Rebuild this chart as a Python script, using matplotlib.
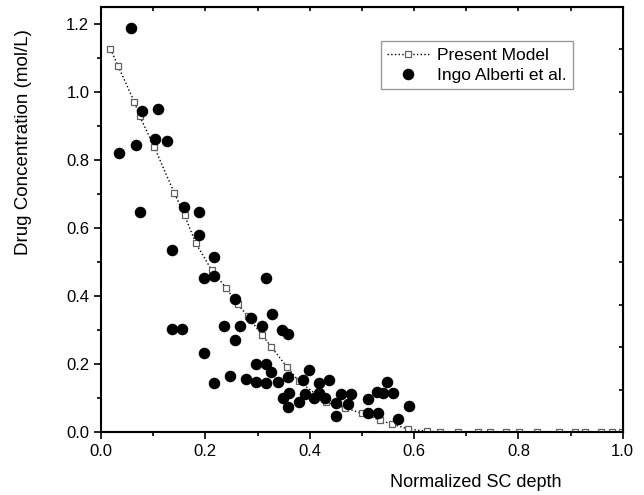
import matplotlib.pyplot as plt
import numpy as np

plt.rcParams['font.family'] = ['Liberation Sans', 'DejaVu Sans']

# present model (squares + dotted line)
modelX = [0.018, 0.033, 0.064, 0.074, 0.102, 0.140, 0.160, 0.181, 0.212, 0.240,
          0.262, 0.281, 0.308, 0.326, 0.356, 0.379, 0.432, 0.467, 0.500, 0.535,
          0.557, 0.589, 0.624, 0.650, 0.684, 0.723, 0.746, 0.777, 0.802, 0.836,
          0.878, 0.909, 0.928, 0.959, 0.979, 0.998]
modelY = [1.126, 1.075, 0.970, 0.929, 0.838, 0.704, 0.638, 0.557, 0.476, 0.423,
          0.376, 0.341, 0.287, 0.251, 0.192, 0.150, 0.088, 0.072, 0.055, 0.035,
          0.024, 0.009, 0.003, 0.001, 0.0, 0.0, 0.0, 0.0, 0.0, 0.0,
          0.0, 0.0, 0.0, 0.0, 0.0, 0.0]

# experimental data (Ingo Alberti et al.)
expX = [0.057, 0.078, 0.109, 0.104, 0.127, 0.067, 0.035, 0.075, 0.158, 0.188,
        0.187, 0.136, 0.217, 0.197, 0.217, 0.317, 0.256, 0.287, 0.328, 0.135,
        0.156, 0.235, 0.267, 0.308, 0.347, 0.359, 0.256, 0.197, 0.297, 0.317,
        0.326, 0.247, 0.217, 0.278, 0.297, 0.317, 0.340, 0.359, 0.349, 0.359,
        0.399, 0.387, 0.417, 0.437, 0.360, 0.379, 0.390, 0.408, 0.418, 0.430,
        0.450, 0.460, 0.474, 0.479, 0.450, 0.511, 0.511, 0.529, 0.541, 0.560,
        0.549, 0.531, 0.570, 0.591]
expY = [1.187, 0.945, 0.949, 0.863, 0.857, 0.843, 0.822, 0.647, 0.661, 0.647,
        0.579, 0.534, 0.516, 0.452, 0.458, 0.454, 0.390, 0.335, 0.346, 0.303,
        0.303, 0.313, 0.313, 0.313, 0.299, 0.288, 0.272, 0.232, 0.200, 0.200,
        0.176, 0.166, 0.143, 0.155, 0.146, 0.143, 0.146, 0.163, 0.100, 0.074,
        0.184, 0.153, 0.143, 0.153, 0.114, 0.089, 0.112, 0.099, 0.114, 0.101,
        0.086, 0.111, 0.084, 0.111, 0.048, 0.096, 0.055, 0.119, 0.114, 0.114,
        0.147, 0.055, 0.040, 0.076]

fig = plt.figure(figsize=(6.44, 4.95), dpi=100)
ax = fig.add_axes([0.157, 0.127, 0.81, 0.859])

ax.plot(modelX, modelY, linestyle=':', color='black', linewidth=1,
        marker='s', markersize=5, markerfacecolor='white',
        markeredgecolor='#606060', markeredgewidth=0.9, label='Present Model', zorder=2)
ax.plot(expX, expY, linestyle='none', marker='o', markersize=7.3,
        color='black', label='Ingo Alberti et al.', zorder=3)

ax.set_xlim(0, 1.0)
ax.set_ylim(0, 1.25)
ax.set_xticks(np.arange(0, 1.01, 0.2))
ax.set_xticks(np.arange(0, 1.01, 0.1), minor=True)
ax.set_yticks(np.arange(0, 1.21, 0.2))
ax.set_yticks(np.arange(0, 1.21, 0.1), minor=True)
ax.xaxis.set_major_formatter(plt.FormatStrFormatter('%.1f'))
ax.yaxis.set_major_formatter(plt.FormatStrFormatter('%.1f'))
ax.tick_params(which='major', direction='out', length=5, width=1.2, labelsize=12)
ax.tick_params(which='minor', direction='out', length=3, width=1.2)

for s in ax.spines.values():
    s.set_linewidth(1.5)

# top and right axes ticks (inward, no labels)
top = ax.secondary_xaxis('top')
top.set_xticks(np.arange(0.1, 1.0, 0.1))
top.tick_params(direction='in', length=3, width=1.2, labeltop=False)
right = ax.secondary_yaxis('right')
right.set_yticks(np.arange(0.125, 1.25, 0.125))
right.tick_params(direction='in', length=3, width=1.2, labelright=False)

ax.set_ylabel('Drug Concentration (mol/L)', fontsize=13.5)
ax.yaxis.set_label_coords(-0.133, 0.682)
ax.set_xlabel('Normalized SC depth', fontsize=13)
ax.xaxis.set_label_coords(0.718, -0.098)

leg = ax.legend(loc='upper left', bbox_to_anchor=(0.536, 0.919), borderaxespad=0,
                fancybox=False, edgecolor='#808080', fontsize=12.5, handlelength=2.5,
                handletextpad=0.4, borderpad=0.35, labelspacing=0.3)
leg.get_frame().set_linewidth(1)

fig.savefig('out.png', dpi=100)
